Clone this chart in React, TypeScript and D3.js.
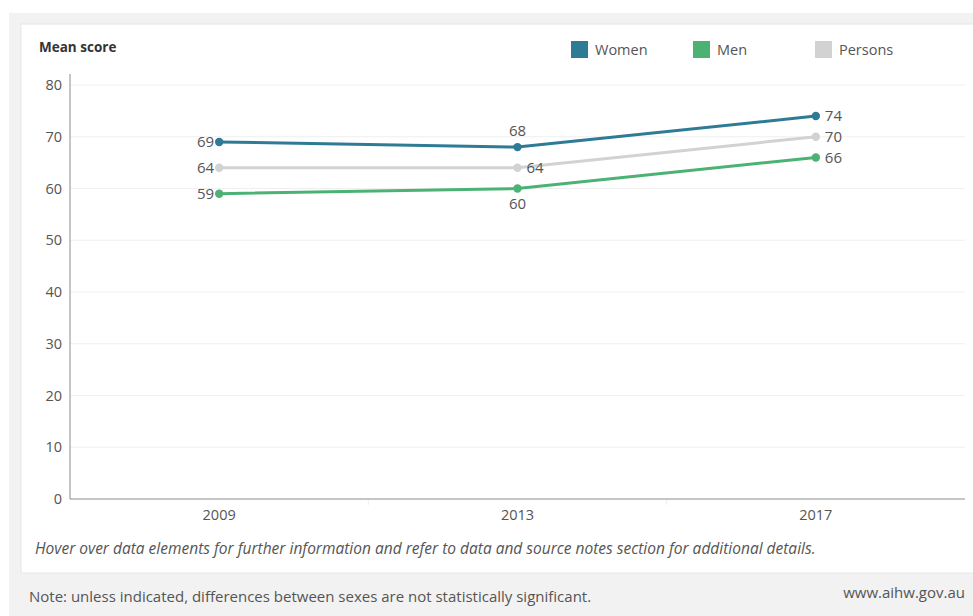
import React from "react";
import * as d3 from "d3";

const years = ["2009", "2013", "2017"];
const women = [69, 68, 74];
const men = [59, 60, 66];
const persons = [64, 64, 70];
const yTicks = [0, 10, 20, 30, 40, 50, 60, 70, 80];

const seriesNames = ["Women", "Men", "Persons"];
const seriesColors = ["#2e7b96", "#4cb274", "#d2d2d2"];
// label positions per series and year: l = left, r = right, t = top, b = bottom
const labelPos = [
  ["l", "t", "r"],
  ["l", "b", "r"],
  ["l", "r", "r"],
];

const W = 973;
const H = 616;
const FONT = "'Open Sans', sans-serif";

export default function App() {
  const x = d3.scaleBand().domain(years).range([70, 965]);
  const y = d3.scaleLinear().domain([0, 80]).range([499, 85]);
  const cx = (d: string) => (x(d) as number) + x.bandwidth() / 2;
  const data = [women, men, persons];
  const line = d3
    .line<number>()
    .x((_, i) => cx(years[i]))
    .y((v) => y(v));
  const order = [2, 1, 0];

  return (
    <svg width={W} height={H} style={{ position: "absolute", left: 0, top: 0 }} fontFamily={FONT}>
      <rect x={0} y={0} width={W} height={H} fill="#ffffff" />
      <rect x={9} y={13} width={W - 9} height={H - 13} fill="#f2f2f2" />
      <rect x={21} y={24} width={W - 21 + 2} height={549} fill="#ffffff" stroke="#e6e6e6" strokeWidth={1} />

      {/* gridlines */}
      {yTicks.map((t) =>
        t === 0 ? null : (
          <line key={t} x1={70} x2={965} y1={y(t)} y2={y(t)} stroke="#efefef" strokeWidth={1} />
        )
      )}
      {/* band separators */}
      {years.slice(1).map((yr) => (
        <line key={yr} x1={x(yr)} x2={x(yr)} y1={499} y2={505} stroke="#eeeeee" strokeWidth={1} />
      ))}
      {/* axes */}
      <line x1={70} x2={70} y1={74} y2={499} stroke="#8c8c8c" strokeWidth={1} />
      <line x1={70} x2={965} y1={499} y2={499} stroke="#8c8c8c" strokeWidth={1} />

      {yTicks.map((t) => (
        <text key={t} x={62} y={y(t)} dy="0.35em" textAnchor="end" fontSize={14.5} fill="#555">
          {t}
        </text>
      ))}
      {years.map((yr) => (
        <text key={yr} x={cx(yr)} y={520} textAnchor="middle" fontSize={14.5} fill="#555">
          {yr}
        </text>
      ))}

      <text x={39} y={52} fontSize={13.5} fontWeight="bold" fill="#333">
        Mean score
      </text>

      {/* legend */}
      {seriesNames.map((n, i) => {
        const lx = [571, 693, 815][i];
        return (
          <g key={n}>
            <rect x={lx} y={41} width={17} height={17} fill={seriesColors[i]} />
            <text x={lx + 24} y={50} dy="0.35em" fontSize={14.5} fill="#555">
              {n}
            </text>
          </g>
        );
      })}

      {/* lines */}
      {order.map((s) => (
        <g key={s}>
          <path d={line(data[s]) || ""} fill="none" stroke={seriesColors[s]} strokeWidth={3} />
          {data[s].map((v, i) => (
            <circle key={i} cx={cx(years[i])} cy={y(v)} r={4.2} fill={seriesColors[s]} />
          ))}
        </g>
      ))}

      {/* labels */}
      {data.map((vals, s) =>
        vals.map((v, i) => {
          const p = labelPos[s][i];
          const px = cx(years[i]);
          const py = y(v);
          let tx = px, ty = py, anchor: "start" | "end" | "middle" = "middle";
          if (p === "l") { tx = px - 5; anchor = "end"; }
          if (p === "r") { tx = px + 9; anchor = "start"; }
          if (p === "t") { ty = py - 16; }
          if (p === "b") { ty = py + 15; }
          return (
            <text key={`${s}-${i}`} x={tx} y={ty} dy="0.35em" textAnchor={anchor} fontSize={15} fill="#555">
              {v}
            </text>
          );
        })
      )}

      <text x={35} y={554} fontSize={15.5} fontStyle="italic" fill="#555">
        Hover over data elements for further information and refer to data and source notes section for additional details.
      </text>
      <text x={29} y={602} fontSize={15} fill="#555">
        Note: unless indicated, differences between sexes are not statistically significant.
      </text>
      <text x={965} y={598} textAnchor="end" fontSize={15} fill="#555">
        www.aihw.gov.au
      </text>
    </svg>
  );
}
